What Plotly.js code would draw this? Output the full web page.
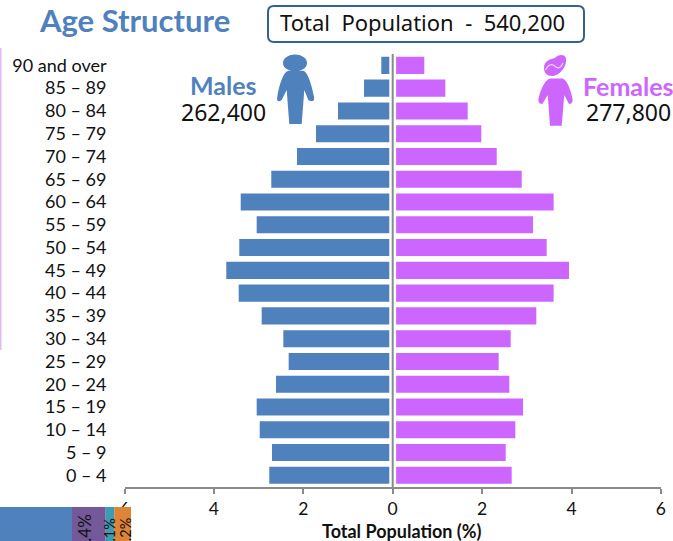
<!DOCTYPE html>
<html>
<head>
<meta charset="utf-8">
<script src="https://cdn.plot.ly/plotly-3.0.1.min.js"></script>
<style>html,body{margin:0;padding:0;background:#fff;overflow:hidden}#chart{width:673px;height:541px}</style>
</head>
<body>
<div id="chart"></div>
<script>
const ageGroups = ["90 and over","85 – 89","80 – 84","75 – 79","70 – 74","65 – 69","60 – 64","55 – 59","50 – 54","45 – 49","40 – 44","35 – 39","30 – 34","25 – 29","20 – 24","15 – 19","10 – 14","5 – 9","0 – 4"];
const malesPct = [0.255,0.642,1.224,1.716,2.141,2.716,3.40,3.043,3.432,3.723,3.445,2.931,2.447,2.327,2.611,3.043,2.975,2.70,2.761];
const femalesPct = [0.707,1.177,1.678,1.982,2.327,2.886,3.60,3.139,3.445,3.944,3.60,3.213,2.64,2.371,2.609,2.915,2.743,2.528,2.662];
const axisTickVals = [-6,-4,-2,0,2,4,6];
const axisTickText = ["6","4","2","0","2","4","6"];
const ethnicValues = [92.3,4.4,1.1,2.2];
const ethnicLabels = ["4.4%","1.1%","2.2%"];
const ethnicColors = ["#4f81bd","#74589a","#3f9ab3","#dd8438"];

const W = 673, H = 541;
const BLUE = "#4f81bd", PURPLE = "#cc66ff", GRAY = "#8a8a8a", INK = "#111";
const BODY = "Lato, Carlito, sans-serif", BOX = "'Noto Sans', sans-serif";
const fx = x => x / W, fy = y => 1 - y / H;
// decoration paths are written in page pixels and converted to paper fractions
const toPaper = d => d.replace(/(-?[\d.]+)[ ,](-?[\d.]+)/g, (m, a, b) => fx(+a).toFixed(5) + "," + fy(+b).toFixed(5));
const deco = (d, fill, line, lw) => ({type:"path", xref:"paper", yref:"paper", layer:"above", path:toPaper(d),
  fillcolor:fill, line:{color:line || "rgba(0,0,0,0)", width:lw || 0}});
const ell = (cx, cy, rx, ry, col) => ({type:"circle", xref:"paper", yref:"paper", layer:"above",
  x0:fx(cx-rx), x1:fx(cx+rx), y0:fy(cy+ry), y1:fy(cy-ry), fillcolor:col, line:{width:0}});
const label = (text, x, y, size, color, font, anchor, bold) => ({text: bold ? "<b>"+text+"</b>" : text, xref:"paper", yref:"paper",
  x:fx(x), y:fy(y), xanchor:anchor||"center", yanchor:"middle", showarrow:false, font:{size, color, family:font}});
const vlabel = (text, x, y, size) => Object.assign(label(text, x, y, size, "#111", BODY), {textangle:-90});

const traces = [
  {type:"bar", orientation:"h", name:"Males", y:ageGroups, x:malesPct.map(v => -v), marker:{color:BLUE}, xaxis:"x", yaxis:"y"},
  {type:"bar", orientation:"h", name:"Females", y:ageGroups, x:femalesPct, marker:{color:PURPLE}, xaxis:"x", yaxis:"y"}
];
ethnicValues.forEach((v, i) => traces.push({type:"bar", orientation:"h", y:[0], x:[v], width:1, xaxis:"x2", yaxis:"y2",
  marker:{color:ethnicColors[i]}}));

const layout = {
  width:W, height:H, margin:{l:0,r:0,t:0,b:0}, paper_bgcolor:"#fff", plot_bgcolor:"rgba(0,0,0,0)",
  showlegend:false, barmode:"relative", bargap:0.25, hovermode:false,
  font:{family:BODY, color:INK},
  xaxis:{domain:[fx(124.5), fx(660.9)], range:[-6,6], tickmode:"array", tickvals:axisTickVals, ticktext:axisTickText,
    showgrid:false, zeroline:false, showline:true, linecolor:GRAY, linewidth:2, ticks:"outside", ticklen:5, tickwidth:2, tickcolor:GRAY,
    tickfont:{size:17.5, color:INK, family:BODY}, anchor:"y"},
  yaxis:{domain:[fy(486.7), fy(54)], type:"category", range:[18.5,-0.5], showgrid:false, zeroline:false, showline:false,
    ticks:"", ticklabelstandoff:17, tickfont:{size:18, color:INK, family:BODY}, anchor:"x"},
  xaxis2:{domain:[0, fx(131)], range:[82.9,100], visible:false, anchor:"y2"},
  yaxis2:{domain:[0, fy(507)], range:[-0.18,0.5], visible:false, anchor:"x2"},
  shapes:[
    {type:"rect", xref:"x", yref:"paper", layer:"above", x0:-0.076, x1:0.076, y0:fy(486), y1:fy(54), fillcolor:"#fff", line:{width:0}},
    {type:"line", xref:"x", yref:"paper", layer:"above", x0:0, x1:0, y0:fy(487), y1:fy(54), line:{color:GRAY, width:2}},
    {type:"line", xref:"paper", yref:"paper", layer:"above", x0:fx(0.7), x1:fx(0.7), y0:fy(350), y1:fy(48), line:{color:"#e3b5ff", width:1.5}},
    deco("M274 6 L578 6 Q584 6 584 12 L584 36 Q584 42 578 42 L274 42 Q268 42 268 36 L268 12 Q268 6 274 6 Z", "rgba(0,0,0,0)", "#33628f", 2),
    ell(295,63,12,8.5,BLUE),
    deco("M288.3 70.7 L303.3 70.7 C308 72 312 86 314 96.7 Q314.5 101 312.7 101 Q310 101.5 308.3 100 L304.3 90 L301.7 124 L289.3 124 L286.7 90 L281.7 100 Q280 101.5 278.3 101 Q276.5 101 277.3 96.7 C279 86 283 72 288.3 70.7 Z", BLUE),
    deco("M544 68 C544 61 550 59 555 58 C558 54 566 54 566 59 C567 66 560 76 552 76 C547 76 544 73 544 68 Z", PURPLE),
    deco("M545.5 70 Q550 61 556 67 Q560 70 563 63", "rgba(0,0,0,0)", "#f0d4ff", 1.2),
    deco("M550 78.5 L562.7 78.5 C567 80 571 90 572.7 100 Q572.5 104 569 104 L564.3 95 L561.7 125.7 L550 125.7 L547.7 95 L542.3 104 Q538.5 104 538.3 100 C540 90 545 80 550 78.5 Z", PURPLE)
  ],
  annotations:[
    label("Age Structure", 134.5, 20, 31, BLUE, BODY, "center", true),
    label("Total  Population  -  540,200", 422, 22, 22, "#111", BOX),
    label("Males", 223.5, 85, 25, BLUE, BODY, "center", true),
    label("262,400", 223.5, 112.5, 23, "#111", BOX),
    label("Females", 581, 86, 25, PURPLE, BODY, "left", true),
    label("277,800", 628.5, 112.5, 23, "#111", BOX),
    label("Total Population (%)", 402, 531, 18, INK, BODY, "center", true),
    vlabel(ethnicLabels[0], 84, 533.5, 17),
    vlabel(ethnicLabels[1], 109, 534, 14.5),
    vlabel(ethnicLabels[2], 125, 533.5, 14.5)
  ]
};
Plotly.newPlot("chart", traces, layout, {displayModeBar:false, staticPlot:true});
</script>
</body>
</html>
